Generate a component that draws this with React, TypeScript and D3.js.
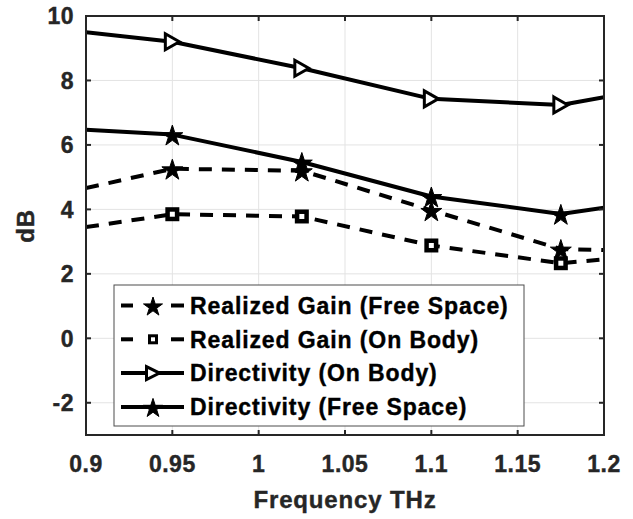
import React from "react";
import * as d3 from "d3";

const freqs = [0.9, 0.95, 1.025, 1.1, 1.175, 1.2];
const markerIdx = [1, 2, 3, 4];
const gainFree = [4.66, 5.26, 5.2, 3.97, 2.77, 2.74];
const gainBody = [3.45, 3.85, 3.78, 2.88, 2.33, 2.45];
const dirBody = [9.5, 9.2, 8.38, 7.43, 7.24, 7.48];
const dirFree = [6.47, 6.32, 5.47, 4.4, 3.86, 4.05];
const xTicks = [0.9, 0.95, 1, 1.05, 1.1, 1.15, 1.2];
const yTicks = [-2, 0, 2, 4, 6, 8, 10];
const seriesNames = [
  "Realized Gain (Free Space)",
  "Realized Gain (On Body)",
  "Directivity (On Body)",
  "Directivity (Free Space)",
];

const W = 633, H = 519;
const L = 86, R = 604, T = 16, B = 435;
const FONT = "'Liberation Sans', Arial, Helvetica, sans-serif";
const LW = 4;

function starPath(cx: number, cy: number, r: number) {
  const ri = r * 0.382;
  const pts: string[] = [];
  for (let i = 0; i < 10; i++) {
    const rr = i % 2 === 0 ? r : ri;
    const a = -Math.PI / 2 + (i * Math.PI) / 5;
    pts.push(`${cx + rr * Math.cos(a)},${cy + rr * Math.sin(a)}`);
  }
  return "M" + pts.join("L") + "Z";
}

function Marker({ kind, x, y, small }: { kind: string; x: number; y: number; small?: boolean }) {
  if (kind === "star") {
    return <path d={starPath(x, y + 1.5, small ? 10 : 11)} fill="#000" stroke="#000" strokeWidth={1} strokeLinejoin="miter" />;
  }
  if (kind === "square") {
    const s = small ? 7 : 9.5;
    return (
      <rect x={x - s / 2} y={y - s / 2} width={s} height={s} fill="#fff" stroke="#000" strokeWidth={small ? 3 : 4.5} />
    );
  }
  const h = small ? 6.5 : 8;
  const w = small ? 6.5 : 7;
  return (
    <path
      d={`M${x - w},${y - h}L${x + w},${y}L${x - w},${y + h}Z`}
      fill="#fff"
      stroke="#000"
      strokeWidth={3}
      strokeLinejoin="miter"
    />
  );
}

export default function App() {
  const x = d3.scaleLinear().domain([0.9, 1.2]).range([L, R]);
  const y = d3.scaleLinear().domain([-3, 10]).range([B, T]);
  const line = d3
    .line<number>()
    .x((_, i) => x(freqs[i]))
    .y((d) => y(d));

  const series = [
    { vals: gainFree, dash: "13 10", marker: "star" },
    { vals: gainBody, dash: "13 10", marker: "square" },
    { vals: dirBody, dash: "", marker: "tri" },
    { vals: dirFree, dash: "", marker: "star" },
  ];

  const legX = 114, legY = 285, legW = 410, legH = 141;
  const rowY = (i: number) => 305.5 + i * 33.8;
  const txt = {
    fontFamily: FONT,
    fontWeight: "bold" as const,
  };

  return (
    <svg width={W} height={H} style={{ position: "absolute", left: 0, top: 0, background: "#fff" }}>
      <defs>
        <clipPath id="plotclip">
          <rect x={L} y={T} width={R - L} height={B - T} />
        </clipPath>
      </defs>
      <rect x={0} y={0} width={W} height={H} fill="#fff" />
      {xTicks.slice(1, -1).map((t) => (
        <line key={"gx" + t} x1={x(t)} x2={x(t)} y1={T} y2={B} stroke="#e3e3e3" strokeWidth={1} />
      ))}
      {yTicks.map((t) => (
        <line key={"gy" + t} x1={L} x2={R} y1={y(t)} y2={y(t)} stroke="#e3e3e3" strokeWidth={1} />
      ))}
      <g clipPath="url(#plotclip)">
        {series.map((s, k) => (
          <path
            key={"s" + k}
            d={line(s.vals) || ""}
            fill="none"
            stroke="#000"
            strokeWidth={LW}
            strokeDasharray={s.dash || undefined}
            strokeLinejoin="round"
          />
        ))}
        {series.map((s, k) =>
          markerIdx.map((i) => (
            <Marker key={`m${k}-${i}`} kind={s.marker} x={x(freqs[i])} y={y(s.vals[i])} />
          ))
        )}
      </g>
      <rect x={L} y={T} width={R - L} height={B - T} fill="none" stroke="#262626" strokeWidth={2} />
      {xTicks.slice(1, -1).map((t) => (
        <g key={"tx" + t}>
          <line x1={x(t)} x2={x(t)} y1={B} y2={B - 5} stroke="#262626" strokeWidth={2} />
          <line x1={x(t)} x2={x(t)} y1={T} y2={T + 5} stroke="#262626" strokeWidth={2} />
        </g>
      ))}
      {yTicks.map((t) => (
        <g key={"ty" + t}>
          <line x1={L} x2={L + 5} y1={y(t)} y2={y(t)} stroke="#262626" strokeWidth={2} />
          <line x1={R} x2={R - 5} y1={y(t)} y2={y(t)} stroke="#262626" strokeWidth={2} />
        </g>
      ))}
      {xTicks.map((t) => (
        <text
          key={"lx" + t}
          x={x(t)}
          y={472}
          textAnchor="middle"
          {...txt}
          fontSize={23}
          letterSpacing={0.5}
          fill="#262626"
          stroke="#262626"
          strokeWidth={0.4}
        >
          {String(t)}
        </text>
      ))}
      {yTicks.map((t) => (
        <text
          key={"ly" + t}
          x={74}
          y={y(t) + 8.3}
          textAnchor="end"
          {...txt}
          fontSize={23}
          letterSpacing={0.5}
          fill="#262626"
          stroke="#262626"
          strokeWidth={0.4}
        >
          {String(t)}
        </text>
      ))}
      <text
        x={345}
        y={508}
        textAnchor="middle"
        {...txt}
        fontSize={24}
        letterSpacing={0.85}
        fill="#262626"
        stroke="#262626"
        strokeWidth={0.4}
      >
        Frequency THz
      </text>
      <text
        transform={`translate(34,226) rotate(-90)`}
        textAnchor="middle"
        {...txt}
        fontSize={24}
        letterSpacing={0.85}
        fill="#262626"
        stroke="#262626"
        strokeWidth={0.4}
      >
        dB
      </text>
      <rect x={legX} y={legY} width={legW} height={legH} fill="#fff" stroke="#4d4d4d" strokeWidth={1} />
      {series.map((s, i) => (
        <g key={"leg" + i}>
          {s.dash ? (
            <>
              <line x1={121} x2={133} y1={rowY(i)} y2={rowY(i)} stroke="#000" strokeWidth={LW} />
              <line x1={171} x2={184} y1={rowY(i)} y2={rowY(i)} stroke="#000" strokeWidth={LW} />
            </>
          ) : (
            <line x1={121} x2={184} y1={rowY(i)} y2={rowY(i)} stroke="#000" strokeWidth={LW} />
          )}
          <Marker kind={s.marker} x={153} y={rowY(i)} small />
          <text
            x={190}
            y={rowY(i) + 8.3}
            {...txt}
            fontSize={23}
            letterSpacing={0.9}
            fill="#000"
            stroke="#000"
            strokeWidth={0.4}
          >
            {seriesNames[i]}
          </text>
        </g>
      ))}
    </svg>
  );
}
